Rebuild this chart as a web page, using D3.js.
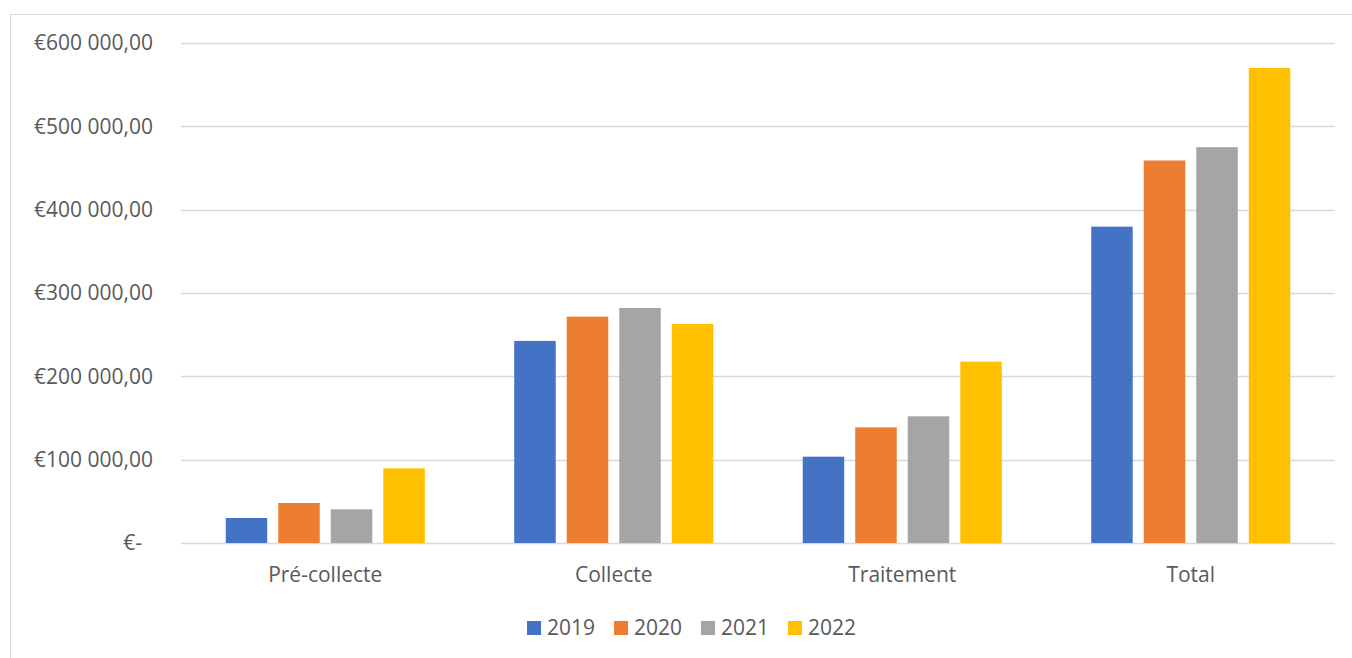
<!DOCTYPE html>
<html>
<head>
<meta charset="utf-8">
<title>Coûts par poste</title>
<script src="https://cdn.jsdelivr.net/npm/d3@7"></script>
<style>
  body { margin: 0; background: #fff; }
  text { font-family: "Open Sans", "Noto Sans", sans-serif; fill: #595959; }
</style>
</head>
<body>
<script>
// data
var categories = ["Pré-collecte", "Collecte", "Traitement", "Total"];
var years = ["2019", "2020", "2021", "2022"];
var values2019 = [30000, 242500, 103600, 379600];
var values2020 = [48000, 271600, 138800, 459000];
var values2021 = [40400, 282000, 152000, 475000];
var values2022 = [89600, 262800, 217600, 570000];
var yTicks = [0, 100000, 200000, 300000, 400000, 500000, 600000];
var colors = ["#4472C4", "#ED7D31", "#A5A5A5", "#FFC000"];

var series = [values2019, values2020, values2021, values2022];

var svg = d3.select("body").append("svg").attr("width", 1352).attr("height", 658);

// outer frame of the chart
svg.append("rect").attr("x", 10.5).attr("y", 14.5).attr("width", 1400).attr("height", 700)
  .style("fill", "none").style("stroke", "#d9d9d9");

var x = d3.scaleBand().domain(categories).range([181, 1335]).paddingInner(0.31).paddingOuter(0.155);
var xIn = d3.scaleBand().domain(years).range([0, x.bandwidth()]).paddingInner(0.21);
var y = d3.scaleLinear().domain([0, 600000]).range([543, 43]);

// gridlines
svg.append("g").selectAll("line").data(yTicks).enter().append("line")
  .attr("x1", 181).attr("x2", 1335)
  .attr("y1", function(d){ return Math.round(y(d)) + 0.5; })
  .attr("y2", function(d){ return Math.round(y(d)) + 0.5; })
  .style("stroke", "#d9d9d9").style("stroke-width", 1.3);

// y labels, euro format with french separators
var fmt = function(d){
  if (d == 0) return "€-";
  return "€" + d3.format(",.2f")(d).replace(/,/g, " ").replace(".", ",");
};
svg.append("g").selectAll("text").data(yTicks).enter().append("text")
  .attr("x", function(d){ return d == 0 ? 142 : 153; })
  .attr("y", function(d){ return y(d); })
  .attr("dy", "0.35em").attr("text-anchor", "end")
  .style("font-size", "21px")
  .text(fmt);

// bars
var groups = svg.append("g").selectAll("g").data(series).enter().append("g")
  .style("fill", function(d, i){ return colors[i]; })
  .attr("transform", function(d, i){ return "translate(" + xIn(years[i]) + ",0)"; });

groups.selectAll("rect").data(function(d){ return d; }).enter().append("rect")
  .attr("x", function(d, i){ return x(categories[i]); })
  .attr("y", function(d){ return y(d); })
  .attr("width", xIn.bandwidth())
  .attr("height", function(d){ return y(0) - y(d); });

// category labels
svg.append("g").selectAll("text").data(categories).enter().append("text")
  .attr("x", function(d){ return x(d) + x.bandwidth() / 2; })
  .attr("y", 575).attr("dy", "0.35em").attr("text-anchor", "middle")
  .style("font-size", "21px")
  .text(function(d){ return d; });

// legend
var legend = svg.append("g").selectAll("g").data(years).enter().append("g")
  .attr("transform", function(d, i){ return "translate(" + (527 + i * 87) + ",621)"; });
legend.append("rect").attr("width", 14).attr("height", 14)
  .style("fill", function(d, i){ return colors[i]; });
legend.append("text").attr("x", 20).attr("y", 7).attr("dy", "0.35em")
  .style("font-size", "21px")
  .text(function(d){ return d; });
</script>
</body>
</html>
